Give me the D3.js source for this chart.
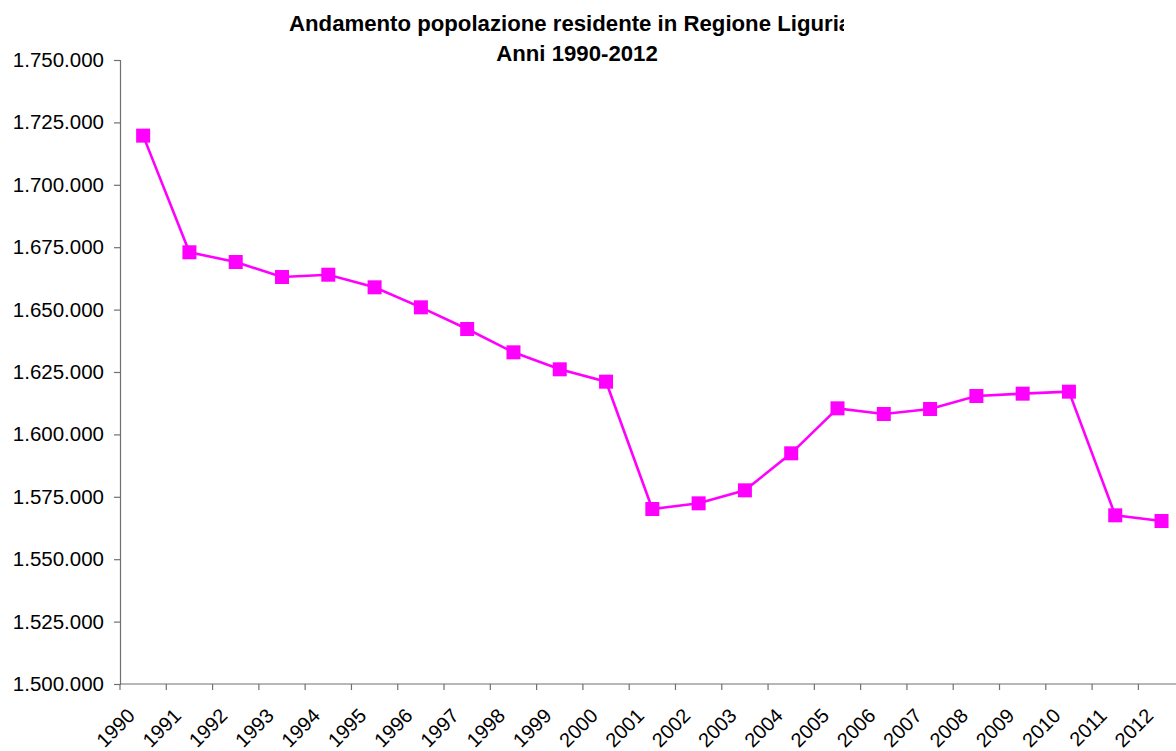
<!DOCTYPE html>
<html>
<head>
<meta charset="utf-8">
<script src="https://d3js.org/d3.v7.min.js"></script>
<style>
  body { margin: 0; background: #fff; }
  svg { display: block; font-family: "Liberation Sans", Arial, sans-serif; }
</style>
</head>
<body>
<script>
// data
var years = ["1990","1991","1992","1993","1994","1995","1996","1997","1998","1999","2000",
             "2001","2002","2003","2004","2005","2006","2007","2008","2009","2010","2011","2012"];
var popolazione = [1719700, 1672960, 1669070, 1663060, 1663980, 1658930, 1650910, 1642230,
                   1632880, 1626070, 1621120, 1570110, 1572380, 1577590, 1592420, 1610440,
                   1608170, 1610180, 1615380, 1616320, 1617120, 1567580, 1565300];
var yTicks = [1500000, 1525000, 1550000, 1575000, 1600000, 1625000, 1650000, 1675000, 1700000, 1725000, 1750000];
var titleLines = ["Andamento popolazione residente in Regione Liguria", "Anni 1990-2012"];

(function () {
/* SVG INIT */
var width = 1176, height = 751;
var mLeft = 120, mTop = 60, mBottom = 684;
var step = 46.29;

var svg = d3.select("body").append("svg")
    .attr("width", width)
    .attr("height", height);

var x = d3.scaleBand()
    .domain(years)
    .range([mLeft, mLeft + step * years.length])
    .padding(0);

var y = d3.scaleLinear()
    .domain([1500000, 1750000])
    .range([mBottom, mTop]);

var fmt = function(v){ return d3.format(",")(v).replace(/,/g, "."); };

/* TITLE (clipped on the right like in the original) */
svg.append("clipPath").attr("id", "titleclip")
  .append("rect").attr("x", 0).attr("y", 0).attr("width", 844).attr("height", 80);

var gt = svg.append("g").attr("clip-path", "url(#titleclip)")
    .style("font-weight", "bold")
    .style("font-size", "22.2px")
    .style("fill", "#000");
gt.append("text")
    .attr("x", 289).attr("y", 31)
    .attr("text-anchor", "start")
    .text(titleLines[0]);
gt.append("text")
    .attr("x", 577).attr("y", 61)
    .attr("text-anchor", "middle")
    .text(titleLines[1]);

/* Y AXIS */
var yAxis = d3.axisLeft(y)
    .tickValues(yTicks)
    .tickSize(6)
    .tickPadding(10)
    .tickFormat(fmt);

var gy = svg.append("g")
    .attr("transform", "translate(" + mLeft + ",0)")
    .call(yAxis);
gy.select(".domain").attr("stroke", "#707070").attr("stroke-width", 1.2);
gy.selectAll(".tick line").attr("stroke", "#707070").attr("stroke-width", 1.2);
gy.selectAll(".tick text")
    .style("font-size", "20.5px")
    .style("font-family", "Liberation Sans, Arial, sans-serif")
    .attr("fill", "#000");

/* X AXIS: ticks between categories, labels rotated */
var gx = svg.append("g");
gx.append("line")
    .attr("x1", mLeft).attr("x2", x.range()[1])
    .attr("y1", mBottom).attr("y2", mBottom)
    .attr("stroke", "#707070").attr("stroke-width", 1.2);
gx.selectAll("line.tk").data(years).enter().append("line")
    .attr("class", "tk")
    .attr("x1", function(d){ return x(d); })
    .attr("x2", function(d){ return x(d); })
    .attr("y1", mBottom).attr("y2", mBottom + 6)
    .attr("stroke", "#707070").attr("stroke-width", 1.2);
gx.selectAll("text").data(years).enter().append("text")
    .attr("transform", function(d){
      return "translate(" + (x(d) + x.bandwidth() / 2 - 7) + "," + (mBottom + 33) + ") rotate(-45)";
    })
    .attr("text-anchor", "end")
    .style("font-size", "20px")
    .style("fill", "#000")
    .text(function(d){ return d; });

/* SERIES */
var cx = function(d, i){ return x(years[i]) + x.bandwidth() / 2; };

var line = d3.line()
    .x(function(d, i){ return cx(d, i); })
    .y(function(d){ return y(d); });

svg.append("path")
    .datum(popolazione)
    .attr("d", line)
    .attr("fill", "none")
    .attr("stroke", "#FF00FF")
    .attr("stroke-width", 2.6);

var ms = 14;
svg.selectAll("rect.marker").data(popolazione).enter().append("rect")
    .attr("class", "marker")
    .attr("x", function(d, i){ return cx(d, i) - ms / 2; })
    .attr("y", function(d){ return y(d) - ms / 2; })
    .attr("width", ms)
    .attr("height", ms)
    .attr("fill", "#FF00FF");
})();
</script>
</body>
</html>
